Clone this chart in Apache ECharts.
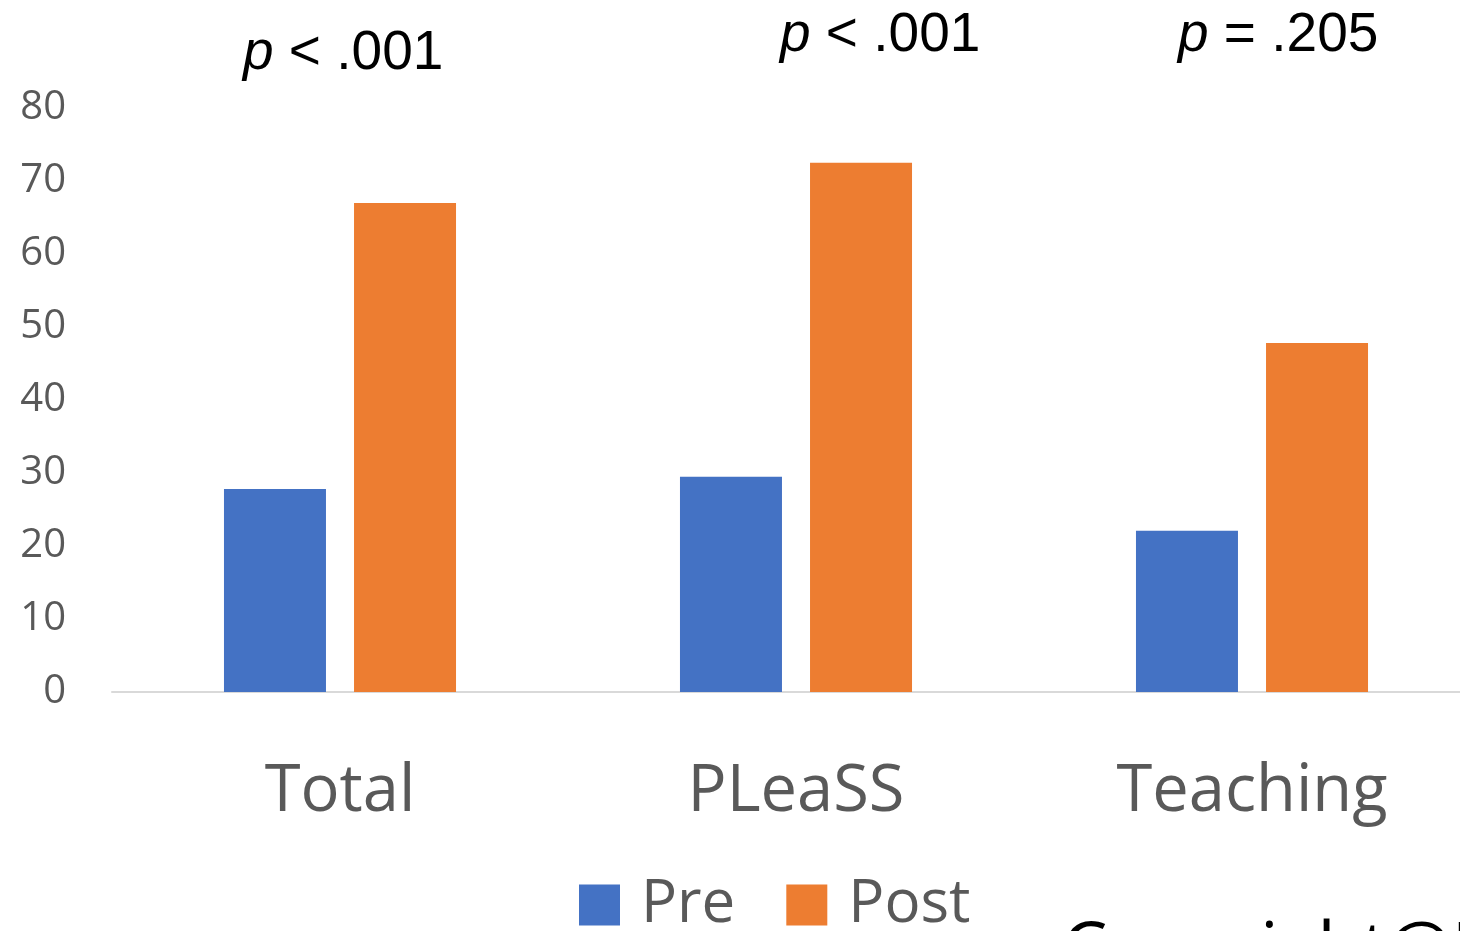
<!DOCTYPE html>
<html>
<head>
<meta charset="utf-8">
<title>Pre / Post scores</title>
<script src="https://cdn.jsdelivr.net/npm/echarts@6/dist/echarts.min.js"></script>
<style>
  html, body { margin: 0; padding: 0; background: #ffffff; }
  #chart { width: 1460px; height: 931px; }
</style>
</head>
<body>
<div id="chart"></div>
<script>
// Categories and series values
const categories = ['Total', 'PLeaSS', 'Teaching'];
const preValues = [27.8, 29.5, 22.1];
const postValues = [67.0, 72.5, 47.8];
const seriesNames = ['Pre', 'Post'];
// Significance labels shown above each group
const pLabels = [['p', ' < .001'], ['p', ' < .001'], ['p', ' = .205']];

const chart = echarts.init(document.getElementById('chart'), null, { renderer: 'canvas' });

const labelFont = '"Open Sans", "Noto Sans", sans-serif';
const pFont = '"Liberation Sans", Arial, sans-serif';

// Annotation placement (left x, vertical centre of the digits)
const pPos = [[243, 56], [780, 38], [1178, 38]];

const option = {
  animation: false,
  backgroundColor: '#ffffff',
  // the plot runs past the right edge of the canvas
  grid: {
    left: 112, width: 1368, top: 108, height: 584,
    containLabel: false,
    outerBoundsMode: 'none'
  },
  legend: {
    data: seriesNames,
    left: 579,
    top: 875,
    padding: 0,
    itemWidth: 41,
    itemHeight: 41,
    itemGap: 51,
    icon: 'rect',
    textStyle: { fontFamily: labelFont, fontSize: 60, color: '#595959', padding: [0, 0, 0, 16] }
  },
  xAxis: {
    type: 'category',
    data: categories,
    axisLine: { show: true, lineStyle: { color: '#d9d9d9', width: 2 } },
    axisTick: { show: false },
    axisLabel: { fontFamily: labelFont, fontSize: 65, color: '#595959', margin: 68 }
  },
  yAxis: {
    type: 'value',
    min: 0,
    max: 80,
    interval: 10,
    axisLine: { show: false },
    axisTick: { show: false },
    splitLine: { show: false },
    axisLabel: { fontFamily: labelFont, fontSize: 40, color: '#595959', margin: 46 }
  },
  series: [
    {
      name: seriesNames[0],
      type: 'bar',
      data: preValues,
      barWidth: 102,
      barGap: '27.5%',
      itemStyle: { color: '#4472c4' }
    },
    {
      name: seriesNames[1],
      type: 'bar',
      data: postValues,
      barWidth: 102,
      barGap: '27.5%',
      itemStyle: { color: '#ed7d31' }
    }
  ],
  graphic: pLabels.map((parts, i) => ({
    type: 'text',
    left: pPos[i][0],
    top: pPos[i][1] - 30,
    style: {
      text: '{i|' + parts[0] + '}{n|' + parts[1] + '}',
      rich: {
        i: { fontFamily: pFont, fontStyle: 'italic', fontSize: 55, fill: '#000000', lineHeight: 60 },
        n: { fontFamily: pFont, fontSize: 55, fill: '#000000', lineHeight: 60 }
      }
    }
  })).concat([{
    type: 'text',
    left: 1062,
    top: 916,
    style: {
      text: 'Copyright@K',
      fontFamily: labelFont,
      fontSize: 72,
      fill: '#000000'
    }
  }])
};

chart.setOption(option);
</script>
</body>
</html>
